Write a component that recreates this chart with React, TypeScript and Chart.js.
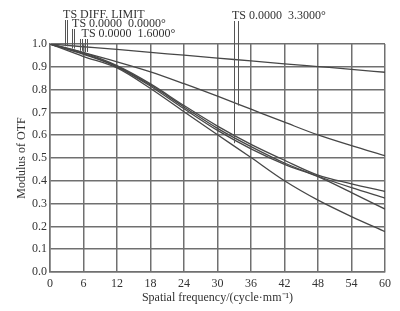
import React, { useEffect, useRef } from "react";
import { Chart, registerables } from "chart.js";

Chart.register(...registerables);

const freqs = [0, 6, 12, 18, 24, 30, 36, 42, 48, 54, 60];
const diffLimit = [1, 0.988, 0.976, 0.963, 0.951, 0.938, 0.926, 0.913, 0.901, 0.889, 0.876];
const field33T = [1, 0.962, 0.922, 0.878, 0.826, 0.771, 0.714, 0.657, 0.601, 0.554, 0.51];
const field0 = [1, 0.962, 0.905, 0.825, 0.73, 0.64, 0.56, 0.49, 0.425, 0.387, 0.353];
const field16T = [1, 0.958, 0.902, 0.82, 0.724, 0.63, 0.55, 0.478, 0.42, 0.37, 0.324];
const field16S = [1, 0.955, 0.9, 0.815, 0.716, 0.621, 0.54, 0.472, 0.418, 0.348, 0.276];
const field33S = [1, 0.945, 0.895, 0.805, 0.703, 0.602, 0.502, 0.4, 0.315, 0.243, 0.177];

const xTitle = "Spatial frequency/(cycle·mm⁻¹)";
const yTitle = "Modulus of OTF";

const labelTexts = ["TS DIFF. LIMIT", "TS 0.0000  0.0000°", "TS 0.0000  1.6000°", "TS 0.0000  3.3000°"];
const labelFreqs = [2.35, 3.95, 5.65, 32.6];
const labelBaselines = [26, 17, 7, 25];
const leaderFreqs = [[2.7, 3.05], [4.0, 4.35], [5.3, 5.65, 6.3, 6.65], [33.0, 33.6]];
const leaderEnds = [[0.99, 0.99], [0.98, 0.98], [0.97, 0.97, 0.965, 0.965], [0.565, 0.73]];

const TEXT = "#333";
const GRID = "#707070";
const LINE = "#474747";
const FONT = "'Liberation Serif', 'Times New Roman', serif";

const labelPlugin = {
  id: "tsLabels",
  afterDraw(chart: any) {
    const { ctx, chartArea, scales } = chart;
    const xs = scales.x;
    const ys = scales.y;
    ctx.save();
    ctx.font = `12px ${FONT}`;
    ctx.fillStyle = TEXT;
    ctx.textBaseline = "alphabetic";
    ctx.textAlign = "left";
    labelTexts.forEach((t, i) => {
      const lx = xs.getPixelForValue(labelFreqs[i]);
      const ly = chartArea.top - labelBaselines[i];
      ctx.fillText(t, lx, ly);
      ctx.strokeStyle = "#555";
      ctx.lineWidth = 1;
      leaderFreqs[i].forEach((f, j) => {
        const px = Math.round(xs.getPixelForValue(f)) + 0.5;
        ctx.beginPath();
        ctx.moveTo(px, ly + 2);
        ctx.lineTo(px, ys.getPixelForValue(leaderEnds[i][j]));
        ctx.stroke();
      });
    });
    ctx.restore();
  },
};

export default function App() {
  const ref = useRef<HTMLCanvasElement | null>(null);
  useEffect(() => {
    if (!ref.current) return;
    const series = [diffLimit, field33T, field0, field16T, field16S, field33S];
    const chart = new Chart(ref.current, {
      type: "line",
      data: {
        labels: freqs,
        datasets: series.map((s) => ({
          data: s.map((v, i) => ({ x: freqs[i], y: v })),
          borderColor: LINE,
          borderWidth: 1.3,
          pointRadius: 0,
          cubicInterpolationMode: "monotone" as const,
          fill: false,
        })),
      },
      options: {
        responsive: false,
        animation: false,
        layout: { padding: { top: 44, right: 15, left: 0, bottom: 0 } },
        plugins: { legend: { display: false }, tooltip: { enabled: false } },
        scales: {
          x: {
            type: "linear",
            min: 0,
            max: 60,
            afterFit: (s: any) => { s.height = 39; },
            grid: { color: GRID, lineWidth: 1.5, drawTicks: false },
            border: { color: GRID, width: 1.5 },
            ticks: { stepSize: 6, padding: 5, color: TEXT, font: { family: FONT, size: 12 }, maxRotation: 0 },
            title: { display: true, text: xTitle, color: TEXT, font: { family: FONT, size: 12 }, padding: { bottom: 6 } },
          },
          y: {
            min: 0,
            max: 1,
            afterFit: (s: any) => { s.width = 50; },
            grid: { color: GRID, lineWidth: 1.5, drawTicks: false },
            border: { color: GRID, width: 1.5 },
            ticks: { stepSize: 0.1, padding: 3, color: TEXT, font: { family: FONT, size: 12 }, callback: (v: any) => Number(v).toFixed(1) },
            title: { display: true, text: yTitle, color: TEXT, font: { family: FONT, size: 12 }, padding: { top: 15 } },
          },
        },
      },
      plugins: [labelPlugin],
    });
    return () => chart.destroy();
  }, []);
  return (
    <div style={{ position: "fixed", left: 0, top: 0, width: 400, height: 311, background: "#fff" }}>
      <canvas ref={ref} width={400} height={311} />
    </div>
  );
}
